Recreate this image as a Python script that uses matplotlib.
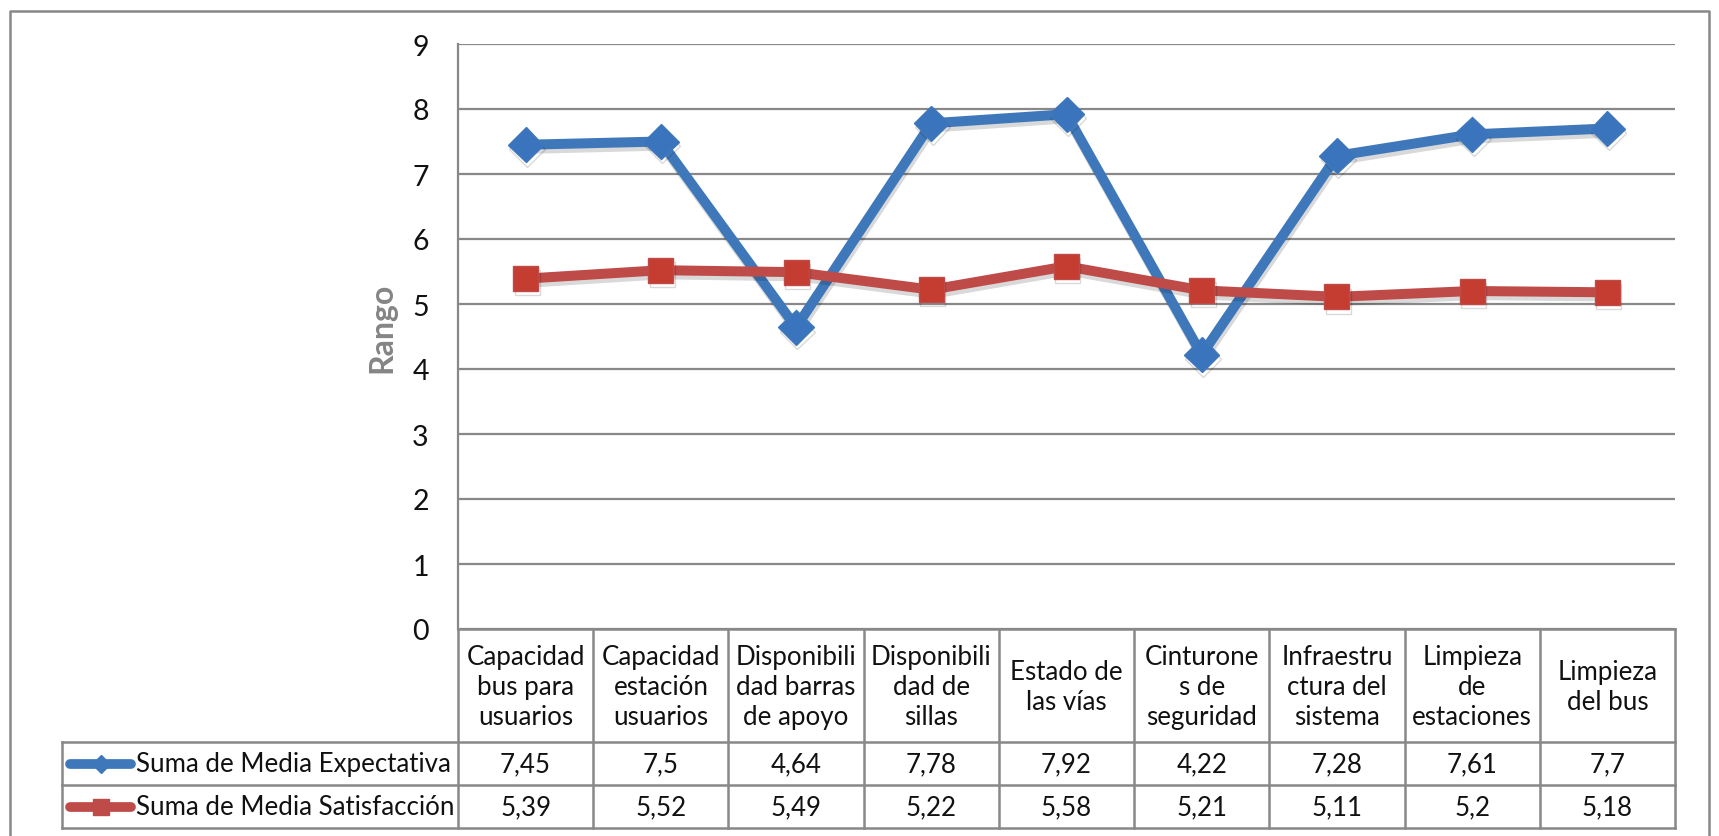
import matplotlib.pyplot as plt
import matplotlib.transforms as mtransforms
import matplotlib.patheffects as pe
from matplotlib.lines import Line2D

plt.rcParams['font.family'] = ['Lato', 'DejaVu Sans']

categorias = ["Capacidad\nbus para\nusuarios", "Capacidad\nestación\nusuarios",
              "Disponibili\ndad barras\nde apoyo", "Disponibili\ndad de\nsillas",
              "Estado de\nlas vías", "Cinturone\ns de\nseguridad",
              "Infraestru\nctura del\nsistema", "Limpieza\nde\nestaciones",
              "Limpieza\ndel bus"]
expectativa = [7.45, 7.5, 4.64, 7.78, 7.92, 4.22, 7.28, 7.61, 7.7]
satisfaccion = [5.39, 5.52, 5.49, 5.22, 5.58, 5.21, 5.11, 5.2, 5.18]
serie_nombres = ["Suma de Media Expectativa", "Suma de Media Satisfacción"]

W, H = 1719, 837
azul = '#3F78BA'
rojo = '#BE4B48'
gris = '#888888'
texto = '#111111'

fig = plt.figure(figsize=(W / 100, H / 100), dpi=100)
ax = fig.add_axes([458 / W, 1 - 630 / H, (1675 - 458) / W, (630 - 45) / H])

x = list(range(len(categorias)))
sombra = [pe.SimpleLineShadow(offset=(1, -3), alpha=0.15, shadow_color='black'), pe.Normal()]
ax.plot(x, expectativa, color=azul, lw=7.2, marker='D', ms=18, mfc='#3A74BD', mec=azul,
        path_effects=sombra, zorder=3)
ax.plot(x, satisfaccion, color=rojo, lw=7.2, marker='s', ms=18, mfc='#C53D31', mec=rojo,
        path_effects=sombra, zorder=3)

ax.set_xlim(-0.5, len(categorias) - 0.5)
ax.set_ylim(0, 9)
ax.set_yticks(range(10))
ax.yaxis.grid(True, color=gris, lw=1.6)
ax.set_axisbelow(True)
ax.set_xticks([])
ax.tick_params(axis='y', length=0, pad=21, labelsize=20.5, labelcolor=texto)
for s in ['top', 'right', 'bottom']:
    ax.spines[s].set_visible(False)
ax.spines['left'].set_color(gris)
ax.spines['left'].set_linewidth(1.6)

def fy(py):
    return 1 - py / H

# título del eje vertical
fig.text(382 / W, fy(328), "Rango", rotation=90, ha='center', va='center',
         fontsize=23, fontweight='bold', color='#858585')

# tabla de datos bajo el eje
tr = mtransforms.blended_transform_factory(ax.transData, fig.transFigure)
y_cab, y_f1, y_f2, y_fin = 630, 743, 786, 829
x_izq, x_der = 62, 1675
n = len(categorias)
for i in range(n + 1):
    fig.add_artist(Line2D([i - 0.5, i - 0.5], [fy(y_cab), fy(y_fin)], transform=tr,
                          color=gris, lw=1.8))
fig.add_artist(Line2D([-0.5, n - 0.5], [fy(y_cab), fy(y_cab)], transform=tr, color=gris, lw=1.8))
for py in (y_f1, y_f2, y_fin):
    fig.add_artist(Line2D([x_izq / W, x_der / W], [fy(py), fy(py)], transform=fig.transFigure,
                          color=gris, lw=1.8))
fig.add_artist(Line2D([x_izq / W, x_izq / W], [fy(y_f1), fy(y_fin)], transform=fig.transFigure,
                      color=gris, lw=1.8))

for i, c in enumerate(categorias):
    fig.text(i, fy((y_cab + y_f1) / 2 + 1), c, transform=tr, ha='center', va='center',
             fontsize=18.6, linespacing=1.25, color=texto)
    fig.text(i, fy((y_f1 + y_f2) / 2), f"{expectativa[i]:g}".replace('.', ','), transform=tr,
             ha='center', va='center', fontsize=18.6, color=texto)
    fig.text(i, fy((y_f2 + y_fin) / 2), f"{satisfaccion[i]:g}".replace('.', ','), transform=tr,
             ha='center', va='center', fontsize=18.6, color=texto)

# claves de la leyenda en la primera columna
for fila, (nombre, col, mk) in enumerate(zip(serie_nombres, [azul, rojo], ['D', 's'])):
    yc = fy((y_f1 + y_f2) / 2 if fila == 0 else (y_f2 + y_fin) / 2)
    fig.add_artist(Line2D([70 / W, 131 / W], [yc, yc], transform=fig.transFigure, color=col,
                          lw=7, solid_capstyle='round'))
    fig.add_artist(Line2D([101 / W], [yc], transform=fig.transFigure, color=col, marker=mk,
                          ms=9 if mk == 'D' else 11, mec=col))
    fig.text(136 / W, yc, nombre, ha='left', va='center', fontsize=18.6, color=texto)

# marco exterior
fig.add_artist(Line2D([10 / W, 10 / W, 1709 / W, 1709 / W], [0, fy(12), fy(12), 0],
                      transform=fig.transFigure, color=gris, lw=1.8))

fig.savefig('out.png', dpi=100, facecolor='white')
